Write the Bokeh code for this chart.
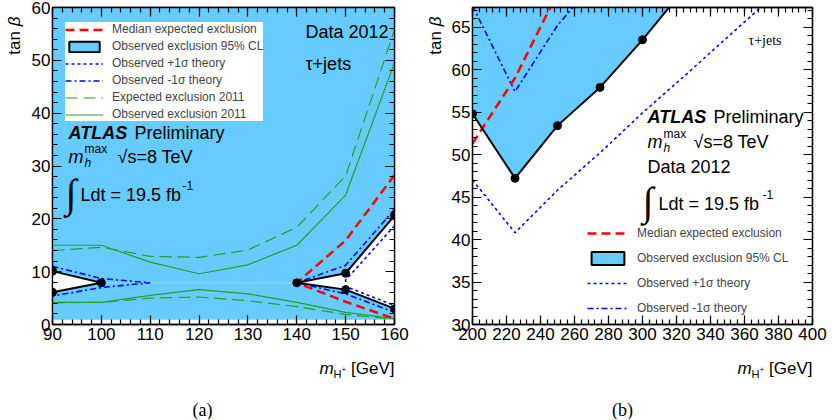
import math
import numpy as np
from bokeh.plotting import figure
from bokeh.models import Range1d, LinearAxis, FixedTicker, Label, Legend, LegendItem
from bokeh.layouts import row, column
from bokeh.embed import file_html
from bokeh.resources import INLINE

FONT = "Liberation Sans"
SERIF = "Liberation Serif"
FILL = "#66ccff"
NAN = float("nan")

# ---------------- data: panel (a) ----------------
a_xticks = [90, 100, 110, 120, 130, 140, 150, 160]
a_yticks = [0, 10, 20, 30, 40, 50, 60]
a_obs_lo_x = [90, 100, 90]
a_obs_lo_y = [10.1, 7.9, 6.1]
a_obs_hi_x = [160, 150, 140, 150, 160]
a_obs_hi_y = [20.6, 9.7, 7.9, 6.6, 3.0]
a_exp_x = [160, 150, 140, 150, 160]
a_exp_y = [28.3, 15.9, 7.9, 4.3, 1.1]
a_m1s_lo_x = [90, 100, 110, 100, 90]
a_m1s_lo_y = [11.0, 8.7, 7.9, 7.0, 5.4]
a_m1s_hi_x = [160, 150, 140, 150, 160]
a_m1s_hi_y = [21.8, 11.2, 7.9, 5.8, 2.3]
a_p1s_hi_x = [160, 150, 150, 160]
a_p1s_hi_y = [18.7, 8.4, 7.2, 3.6]
g_x = [90, 100, 110, 120, 130, 140, 150, 160]
g_obs_up = [15.0, 15.0, 11.8, 9.6, 11.3, 15.0, 24.5, 49.5]
g_obs_dn = [4.2, 4.2, 5.5, 6.6, 5.8, 4.2, 2.3, 1.1]
g_exp_up = [14.0, 14.6, 12.9, 12.7, 14.1, 18.4, 28.1, 55.8]
g_exp_dn = [4.1, 4.2, 5.0, 5.2, 4.5, 3.4, 1.9, 1.0]
a_excl_bottom = 0.9

# ---------------- data: panel (b) ----------------
b_xticks = [200, 220, 240, 260, 280, 300, 320, 340, 360, 380, 400]
b_yticks = [30, 35, 40, 45, 50, 55, 60, 65]
b_obs_x = [200, 225, 250, 275, 300, 325]
b_obs_y = [54.8, 47.2, 53.4, 57.9, 63.5, 69.6]
b_exp_x = [200, 225, 250]
b_exp_y = [51.3, 59.0, 69.0]
b_m1s_x = [200, 225, 250, 275]
b_m1s_y = [67.5, 57.4, 65.2, 71.0]
b_p1s_x = [200, 225, 250, 275, 300, 325, 350, 375]
b_p1s_y = [47.0, 40.8, 45.8, 50.2, 54.9, 59.3, 63.8, 68.3]

A_XR, A_YR = (90, 160), (0, 60)
B_XR, B_YR = (200, 400), (30, 67.3)

TOP_H = 350      # height of the row holding the two panels
FRAME_TOP = 7
FRAME_BOTTOM = 324


def style_axes(p, xt, xminor, yt, yminor):
    for side in ("below", "above", "left", "right"):
        labels = side in ("below", "left")
        ax = LinearAxis()
        if side in ("below", "above"):
            ax.ticker = FixedTicker(ticks=xt, minor_ticks=xminor)
        else:
            ax.ticker = FixedTicker(ticks=yt, minor_ticks=yminor)
        ax.major_tick_in = 9
        ax.major_tick_out = 0
        ax.minor_tick_in = 5
        ax.minor_tick_out = 0
        ax.axis_line_width = 1.3
        ax.major_tick_line_width = 1.2
        ax.minor_tick_line_width = 1.2
        if labels:
            ax.major_label_text_font = FONT
            ax.major_label_text_font_size = "17px"
            ax.major_label_text_color = "black"
            ax.major_label_standoff = 3 if side == "below" else 2
        else:
            ax.major_label_text_font_size = "0px"
            ax.major_label_text_color = None
            ax.major_label_standoff = 0
        p.add_layout(ax, side)


def lab(p, fl, fb, px, py, text, size, font=FONT, style="normal", align="left",
        baseline="middle", angle=0.0):
    p.add_layout(Label(x=px - fl, y=fb - py, x_units="screen", y_units="screen",
                       text=text, text_font=font, text_font_size=f"{size}px",
                       text_font_style=style, text_align=align,
                       text_baseline=baseline, angle=angle, text_color="black"))


def panel_fig(width, xr, yr, left, right):
    p = figure(width=width, height=TOP_H, x_range=Range1d(*xr), y_range=Range1d(*yr),
               x_axis_type=None, y_axis_type=None,
               output_backend="svg", toolbar_location=None,
               min_border_left=left, min_border_right=right,
               min_border_top=FRAME_TOP, min_border_bottom=TOP_H - FRAME_BOTTOM)
    p.grid.visible = False
    p.outline_line_color = "black"
    p.outline_line_width = 1.3
    p.background_fill_color = "white"
    p.border_fill_color = "white"
    return p


def text_fig(width, height):
    # a frame covering the whole canvas; data units = pixels from top-left
    t = figure(width=width, height=height, x_range=Range1d(0, width),
               y_range=Range1d(height, 0), x_axis_type=None, y_axis_type=None,
               output_backend="svg", toolbar_location=None,
               min_border_left=0, min_border_right=0, min_border_top=0,
               min_border_bottom=0)
    t.grid.visible = False
    t.outline_line_color = None
    t.background_fill_color = "white"
    t.border_fill_color = "white"
    return t


def tlab(t, x, y, text, size, font=FONT, style="normal", align="left", angle=0.0):
    t.add_layout(Label(x=x, y=y, text=text, text_font=font, text_font_size=f"{size}px",
                       text_font_style=style, text_align=align, text_baseline="middle",
                       angle=angle, text_color="black"))


# page layout (pixels)
X_TA, W_TA = 0, 28
X_P1, W_P1 = 28, 382
X_TB, W_TB = 410, 38
X_P2, W_P2 = 448, 383
FL1, FR1 = 50, 394
FL2, FR2 = 472, 812
FB1 = FB2 = FRAME_BOTTOM

# ================= panel (a) =================
p1 = panel_fig(W_P1, A_XR, A_YR, FL1 - X_P1, X_P1 + W_P1 - FR1)
style_axes(p1, a_xticks, list(np.arange(90, 161, 2)), a_yticks, list(np.arange(0, 61, 2)))

p1.quad(left=[A_XR[0]], right=[A_XR[1]], bottom=[a_excl_bottom], top=[A_YR[1]],
        fill_color=FILL, line_color=None)
p1.patch(a_obs_lo_x, a_obs_lo_y, fill_color="white", line_color=None)
p1.patch(a_obs_hi_x, a_obs_hi_y, fill_color="white", line_color=None)
p1.line([100, 140], [a_obs_lo_y[1], a_obs_hi_y[2]], line_color="#8fd8f7", line_width=1)

r_gexp = p1.line(g_x, g_exp_up, line_color="#22a022", line_width=1.2, line_dash="12 6")
p1.line(g_x, g_exp_dn, line_color="#22a022", line_width=1.2, line_dash="12 6")
r_gobs = p1.line(g_x, g_obs_up, line_color="#22a022", line_width=1.2)
p1.line(g_x, g_obs_dn, line_color="#22a022", line_width=1.2)

r_m1s = p1.line(a_m1s_lo_x, a_m1s_lo_y, line_color="blue", line_width=1.6, line_dash="6 3 2 3")
p1.line(a_m1s_hi_x, a_m1s_hi_y, line_color="blue", line_width=1.6, line_dash="6 3 2 3")
r_p1s = p1.line(a_p1s_hi_x, a_p1s_hi_y, line_color="blue", line_width=1.6, line_dash="3 3")

p1.line(a_obs_lo_x, a_obs_lo_y, line_color="black", line_width=2)
p1.line(a_obs_hi_x, a_obs_hi_y, line_color="black", line_width=2)
r_exp = p1.line(a_exp_x, a_exp_y, line_color="red", line_width=2.5, line_dash="9 5")
p1.scatter(a_obs_lo_x, a_obs_lo_y, size=8, color="black")
p1.scatter(a_obs_hi_x, a_obs_hi_y, size=8, color="black")
r_box = p1.quad(left=[NAN], right=[NAN], bottom=[NAN], top=[NAN], fill_color=FILL,
                line_color="black", line_width=2)

leg1 = Legend(items=[
    LegendItem(label="Median expected exclusion", renderers=[r_exp]),
    LegendItem(label="Observed exclusion 95% CL", renderers=[r_box]),
    LegendItem(label="Observed +1σ theory", renderers=[r_p1s]),
    LegendItem(label="Observed -1σ theory", renderers=[r_m1s]),
    LegendItem(label="Expected exclusion 2011", renderers=[r_gexp]),
    LegendItem(label="Observed exclusion 2011", renderers=[r_gobs]),
], location=(13, 203), padding=5, margin=0, spacing=3, glyph_width=38,
    glyph_height=13, label_height=13, label_standoff=9,
    label_text_font=FONT, label_text_font_size="12px",
    background_fill_color="white", background_fill_alpha=1.0,
    border_line_color=None)
p1.add_layout(leg1)

lab(p1, FL1, FB1, 303, 31, "Data 2012", 18)
lab(p1, FL1, FB1, 303, 63, "τ+jets", 18)
lab(p1, FL1, FB1, 66, 132, "ATLAS", 18, style="bold italic")
lab(p1, FL1, FB1, 132, 132, "Preliminary", 18)
lab(p1, FL1, FB1, 66, 156, "m", 18, style="italic")
lab(p1, FL1, FB1, 82, 162, "h", 12, style="italic")
lab(p1, FL1, FB1, 82, 148, "max", 12)
lab(p1, FL1, FB1, 115, 156, "√s=8 TeV", 18)
lab(p1, FL1, FB1, 63, 193, "∫", 40, font=SERIF)
lab(p1, FL1, FB1, 78, 194, "Ldt = 19.5 fb", 18)
lab(p1, FL1, FB1, 180, 185, "-1", 12)

# ================= panel (b) =================
p2 = panel_fig(W_P2, B_XR, B_YR, FL2 - X_P2, X_P2 + W_P2 - FR2)
style_axes(p2, b_xticks, list(np.arange(200, 401, 4)), b_yticks, list(np.arange(30, 68, 1)))

p2.patch(b_obs_x + [b_obs_x[-1], b_obs_x[0]], b_obs_y + [B_YR[1] + 5, B_YR[1] + 5],
         fill_color=FILL, line_color=None)
q_m1s = p2.line(b_m1s_x, b_m1s_y, line_color="blue", line_width=1.6, line_dash="6 3 2 3")
q_p1s = p2.line(b_p1s_x, b_p1s_y, line_color="blue", line_width=1.6, line_dash="3 3")
q_exp = p2.line(b_exp_x, b_exp_y, line_color="red", line_width=2.5, line_dash="9 5")
p2.line(b_obs_x, b_obs_y, line_color="black", line_width=2)
p2.scatter(b_obs_x[:-1], b_obs_y[:-1], size=8, color="black")
q_box = p2.quad(left=[NAN], right=[NAN], bottom=[NAN], top=[NAN], fill_color=FILL,
                line_color="black", line_width=2)

leg2 = Legend(items=[
    LegendItem(label="Median expected exclusion", renderers=[q_exp]),
    LegendItem(label="Observed exclusion 95% CL", renderers=[q_box]),
    LegendItem(label="Observed +1σ theory", renderers=[q_p1s]),
    LegendItem(label="Observed -1σ theory", renderers=[q_m1s]),
], location=(115, 8), padding=0, margin=0, spacing=9, glyph_width=41,
    glyph_height=16, label_height=16, label_standoff=9,
    label_text_font=FONT, label_text_font_size="12px",
    background_fill_alpha=0.0, border_line_color=None)
p2.add_layout(leg2)

lab(p2, FL2, FB2, 748, 40, "τ+jets", 14, font=SERIF)
lab(p2, FL2, FB2, 647, 116, "ATLAS", 18, style="bold italic")
lab(p2, FL2, FB2, 713, 116, "Preliminary", 18)
lab(p2, FL2, FB2, 647, 141, "m", 18, style="italic")
lab(p2, FL2, FB2, 663, 147, "h", 12, style="italic")
lab(p2, FL2, FB2, 663, 133, "max", 12)
lab(p2, FL2, FB2, 693, 141, "√s=8 TeV", 18)
lab(p2, FL2, FB2, 647, 166, "Data 2012", 18)
lab(p2, FL2, FB2, 642, 201, "∫", 40, font=SERIF)
lab(p2, FL2, FB2, 658, 203, "Ldt = 19.5 fb", 18)
lab(p2, FL2, FB2, 762, 194, "-1", 12)

# ================= axis titles and captions =================
def tan_title(t, x):
    tlab(t, x, 10, "β", 17, style="italic", align="right", angle=math.pi / 2)
    tlab(t, x, 26, "tan", 17, align="right", angle=math.pi / 2)


ta = text_fig(W_TA, TOP_H)
tan_title(ta, 14 - X_TA)
tb = text_fig(W_TB, TOP_H)
tan_title(tb, 435 - X_TB)

BOT_H = 69
bot = text_fig(X_P2 + W_P2, BOT_H)


def mh_title(t, xend, y):
    tlab(t, xend - 75, y, "m", 17, style="italic")
    tlab(t, xend - 61, y + 5, "H", 11)
    tlab(t, xend - 53, y + 1, "+", 8)
    tlab(t, xend - 43.5, y, "[GeV]", 17)


mh_title(bot, FR1, 368 - TOP_H)
mh_title(bot, FR2, 368 - TOP_H)
tlab(bot, 202, 409 - TOP_H, "(a)", 18, font=SERIF, align="center")
tlab(bot, 622, 409 - TOP_H, "(b)", 18, font=SERIF, align="center")

layout = column(row(ta, p1, tb, p2), bot)
open("out.html", "w").write(file_html(layout, INLINE))
